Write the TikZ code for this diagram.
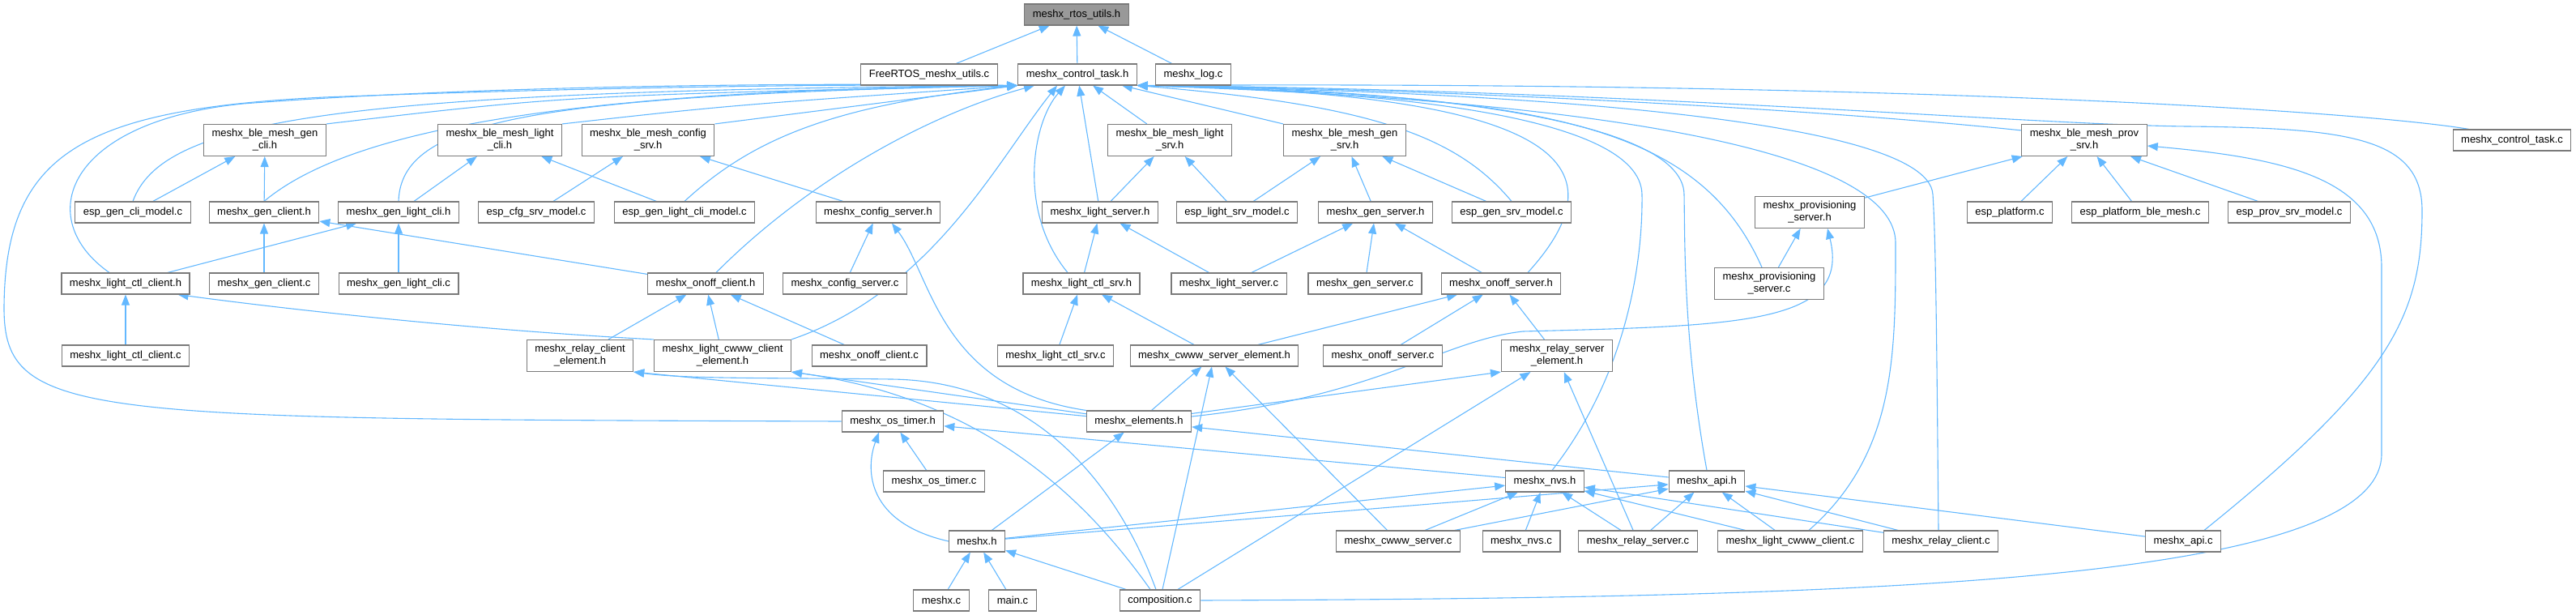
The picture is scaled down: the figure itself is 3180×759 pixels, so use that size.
\documentclass[tikz,border=0pt]{standalone}
\usepackage{fontspec}
\setmainfont{Liberation Sans}
\usetikzlibrary{arrows.meta}
\definecolor{edgeblue}{HTML}{63B8FF}
\definecolor{boxline}{HTML}{7A7A7A}
\definecolor{rootfill}{HTML}{999999}
\pgfdeclarelayer{bg}
\pgfsetlayers{bg,main}

\begin{document}
\begin{tikzpicture}[
    x=1pt, y=-1pt,
    every node/.style={font=\fontsize{13pt}{15pt}\selectfont, align=center},
    fnode/.style={
      rectangle, draw=boxline, line width=1.1pt, fill=white,
      minimum height=26pt, inner xsep=10pt, inner ysep=6pt
    },
    rootnode/.style={fnode, fill=rootfill},
    flow/.style={-{Triangle[length=13pt,width=10pt]}, line width=1.1pt, draw=edgeblue}
  ]
    \useasboundingbox (0,0) rectangle (3180,759);

    \node[rootnode] (rtos) at (1329,18) {meshx\_rtos\_utils.h};
    \node[fnode] (frtos) at (1147,92) {FreeRTOS\_meshx\_utils.c};
    \node[fnode] (ctask) at (1330,92) {meshx\_control\_task.h};
    \node[fnode] (logc) at (1473,92) {meshx\_log.c};

    \node[fnode] (bmgc) at (327,173) {meshx\_ble\_mesh\_gen\\\_cli.h};
    \node[fnode] (bmlc) at (617,173) {meshx\_ble\_mesh\_light\\\_cli.h};
    \node[fnode] (bmcs) at (800,173) {meshx\_ble\_mesh\_config\\\_srv.h};
    \node[fnode] (bmls) at (1444,173) {meshx\_ble\_mesh\_light\\\_srv.h};
    \node[fnode] (bmgs) at (1660,173) {meshx\_ble\_mesh\_gen\\\_srv.h};
    \node[fnode] (bmps) at (2573,173) {meshx\_ble\_mesh\_prov\\\_srv.h};
    \node[fnode] (ctaskc) at (3101,173) {meshx\_control\_task.c};

    \node[fnode] (egcm) at (164,262) {esp\_gen\_cli\_model.c};
    \node[fnode] (gench) at (326,262) {meshx\_gen\_client.h};
    \node[fnode] (glch) at (492,262) {meshx\_gen\_light\_cli.h};
    \node[fnode] (ecsm) at (662,262) {esp\_cfg\_srv\_model.c};
    \node[fnode] (eglcm) at (845,262) {esp\_gen\_light\_cli\_model.c};
    \node[fnode] (cfgsh) at (1084,262) {meshx\_config\_server.h};
    \node[fnode] (lsh) at (1358,262) {meshx\_light\_server.h};
    \node[fnode] (elsm) at (1527,262) {esp\_light\_srv\_model.c};
    \node[fnode] (gensh) at (1698,262) {meshx\_gen\_server.h};
    \node[fnode] (egsm) at (1866,262) {esp\_gen\_srv\_model.c};
    \node[fnode] (provsh) at (2234,262) {meshx\_provisioning\\\_server.h};
    \node[fnode] (eplat) at (2481,262) {esp\_platform.c};
    \node[fnode] (epbm) at (2642,262) {esp\_platform\_ble\_mesh.c};
    \node[fnode] (epsm) at (2826,262) {esp\_prov\_srv\_model.c};

    \node[fnode] (lccth) at (155,350) {meshx\_light\_ctl\_client.h};
    \node[fnode] (gencc) at (326,350) {meshx\_gen\_client.c};
    \node[fnode] (glcc) at (492,350) {meshx\_gen\_light\_cli.c};
    \node[fnode] (onoffch) at (871,350) {meshx\_onoff\_client.h};
    \node[fnode] (cfgsc) at (1043,350) {meshx\_config\_server.c};
    \node[fnode] (lctlsh) at (1335,350) {meshx\_light\_ctl\_srv.h};
    \node[fnode] (lsc) at (1517,350) {meshx\_light\_server.c};
    \node[fnode] (gensc) at (1685,350) {meshx\_gen\_server.c};
    \node[fnode] (onoffsh) at (1853,350) {meshx\_onoff\_server.h};
    \node[fnode] (provsc) at (2184,350) {meshx\_provisioning\\\_server.c};

    \node[fnode] (lcclc) at (155,439) {meshx\_light\_ctl\_client.c};
    \node[fnode] (relcel) at (716,439) {meshx\_relay\_client\\\_element.h};
    \node[fnode] (cwcel) at (892,439) {meshx\_light\_cwww\_client\\\_element.h};
    \node[fnode] (onoffcc) at (1073,439) {meshx\_onoff\_client.c};
    \node[fnode] (lctlsc) at (1303,439) {meshx\_light\_ctl\_srv.c};
    \node[fnode] (cwsel) at (1499,439) {meshx\_cwww\_server\_element.h};
    \node[fnode] (onoffsc) at (1707,439) {meshx\_onoff\_server.c};
    \node[fnode] (relsel) at (1922,439) {meshx\_relay\_server\\\_element.h};

    \node[fnode] (ostimh) at (1102,520) {meshx\_os\_timer.h};
    \node[fnode] (elemh) at (1406,520) {meshx\_elements.h};
    \node[fnode] (ostimc) at (1153,594) {meshx\_os\_timer.c};
    \node[fnode] (nvsh) at (1907,594) {meshx\_nvs.h};
    \node[fnode] (apih) at (2107,594) {meshx\_api.h};

    \node[fnode] (meshxh) at (1206,668) {meshx.h};
    \node[fnode] (cwsc) at (1726,668) {meshx\_cwww\_server.c};
    \node[fnode] (nvsc) at (1878,668) {meshx\_nvs.c};
    \node[fnode] (relsc) at (2022,668) {meshx\_relay\_server.c};
    \node[fnode] (lcwcc) at (2210,668) {meshx\_light\_cwww\_client.c};
    \node[fnode] (relcc) at (2396,668) {meshx\_relay\_client.c};
    \node[fnode] (apic) at (2695,668) {meshx\_api.c};

    \node[fnode] (meshxc) at (1162,741) {meshx.c};
    \node[fnode] (mainc) at (1250,741) {main.c};
    \node[fnode] (compc) at (1432,741) {composition.c};

    \begin{pgfonlayer}{bg}
    \draw[flow] (frtos) -- (rtos);
    \draw[flow] (ctask) -- (rtos);
    \draw[flow] (logc) -- (rtos);

    \draw[flow] (bmgc.north east) .. controls (700,118) .. (ctask.south west);
    \draw[flow] (bmlc.north east) .. controls (900,130) .. (ctask.south west);
    \draw[flow] (bmcs.north east) -- (ctask.south west);
    \draw[flow] (egcm.north) .. controls (200,150) and (400,112) .. (ctask.south west);
    \draw[flow] (gench.north) .. controls (420,170) and (650,112) .. (ctask.south west);
    \draw[flow] (glch.north) .. controls (495,150) and (650,118) .. (ctask.south west);
    \draw[flow] ([xshift=-20pt]lccth.north) .. controls (40,270) and (80,150) .. (300,128)
      .. controls (600,105) and (1000,102) .. (ctask.south west);
    \draw[flow] (ostimh.west) .. controls (100,517) and (5,517) .. (5,380)
      .. controls (6,190) and (100,135) .. (400,120)
      .. controls (800,105) and (1100,104) .. (ctask.south west);
    \draw[flow] (eglcm.north) .. controls (930,170) and (1030,130) .. (ctask.south west);
    \draw[flow] ([xshift=13pt]onoffch.north) .. controls (1000,220) and (1150,140) .. ([xshift=-53pt]ctask.south);
    \draw[flow] (cwcel.north east) .. controls (1150,360) and (1230,200) .. ([xshift=-25pt]ctask.south);
    \draw[flow] ([xshift=-17pt]lctlsh.north) .. controls (1255,260) and (1275,150) .. ([xshift=-15pt]ctask.south);
    \draw[flow] (lsh) -- (ctask);
    \draw[flow] (bmls) -- (ctask);
    \draw[flow] (bmgs.north west) -- ([xshift=55pt]ctask.south);

    \draw[flow] (egsm.north) .. controls (1800,170) and (1700,130) .. (ctask.south east);
    \draw[flow] ([xshift=33pt]onoffsh.north) .. controls (2010,200) and (1920,115) .. (ctask.south east);
    \draw[flow] ([xshift=9pt]nvsh.north) .. controls (2010,460) and (2028,320) .. (2027,240)
      .. controls (2025,140) and (1700,112) .. (ctask.south east);
    \draw[flow] (apih.north) .. controls (2078,420) and (2080,300) .. (2079,240)
      .. controls (2078,140) and (1700,108) .. (ctask.south east);
    \draw[flow] ([xshift=-9pt]provsc.north) .. controls (2095,150) and (1900,118) .. (ctask.south east);
    \draw[flow] ([xshift=23pt]lcwcc.north) .. controls (2340,560) and (2340,440) .. (2340,300)
      .. controls (2340,160) and (1800,118) .. (ctask.south east);
    \draw[flow] ([xshift=-3pt]relcc.north) .. controls (2391,450) and (2390,300) .. (2386,240)
      .. controls (2380,140) and (1800,112) .. (ctask.south east);
    \draw[flow] ([xshift=26pt]apic.north) .. controls (2950,470) and (2990,390) .. (2990,260)
      .. controls (2990,170) and (2900,158) .. (2700,156)
      .. controls (2500,154) and (2000,110) .. (ctask.south east);
    \draw[flow] ([yshift=-8pt]bmps.north west) .. controls (2200,130) and (1700,108) .. (ctask.south east);
    \draw[flow] ([xshift=-53pt]ctaskc.north) .. controls (2900,135) and (2300,100) .. (ctask.south east);

    \draw[flow] (egcm) -- (bmgc);
    \draw[flow] (gench) -- (bmgc);
    \draw[flow] (glch) -- (bmlc);
    \draw[flow] (eglcm) -- (bmlc);
    \draw[flow] (ecsm) -- (bmcs);
    \draw[flow] (cfgsh) -- (bmcs);
    \draw[flow] (lsh) -- (bmls);
    \draw[flow] (elsm) -- (bmls);
    \draw[flow] (elsm) -- (bmgs);
    \draw[flow] (gensh) -- (bmgs);
    \draw[flow] (egsm) -- (bmgs);
    \draw[flow] (provsh) -- (bmps);
    \draw[flow] (eplat) -- (bmps);
    \draw[flow] (epbm) -- (bmps);
    \draw[flow] (epsm) -- (bmps);
    \draw[flow] (compc.east) .. controls (2300,738) and (2940,720) .. (2940,560) -- (2940,330)
      .. controls (2940,220) and (2820,195) .. ([yshift=-7pt]bmps.east);

    \draw[flow] (gencc) -- (gench);
    \draw[flow] (onoffch) -- (gench);
    \draw[flow] (lccth) -- (glch);
    \draw[flow] (glcc) -- (glch);
    \draw[flow] (cfgsc) -- (cfgsh);
    \draw[flow] (lctlsh) -- (lsh);
    \draw[flow] (lsc) -- (lsh);
    \draw[flow] (lsc) -- (gensh);
    \draw[flow] (gensc) -- (gensh);
    \draw[flow] (onoffsh) -- (gensh);
    \draw[flow] (provsc) -- (provsh);
    \draw[flow] (elemh.north west) .. controls (1160,480) and (1150,340) .. ([xshift=17pt]cfgsh.south);
    \draw[flow] ([yshift=6pt]elemh.east) .. controls (1700,490) and (1780,420) .. (1880,409)
      .. controls (2150,402) and (2285,400) .. ([xshift=22pt]provsh.south);

    \draw[flow] (lcclc) -- (lccth);
    \draw[flow] (cwcel.north west) .. controls (600,408) and (380,385) .. ([xshift=-15pt]lccth.south east);
    \draw[flow] (relcel) -- (onoffch);
    \draw[flow] (cwcel) -- (onoffch);
    \draw[flow] (onoffcc) -- (onoffch);
    \draw[flow] (lctlsc) -- (lctlsh);
    \draw[flow] (cwsel) -- (lctlsh);
    \draw[flow] (cwsel) -- (onoffsh);
    \draw[flow] (onoffsc) -- (onoffsh);
    \draw[flow] (relsel) -- (onoffsh);

    \draw[flow] (elemh) -- (relcel.south east);
    \draw[flow] (elemh) -- (cwcel.south east);
    \draw[flow] ([xshift=-5pt]compc.north) .. controls (1380,600) and (1280,470) .. (1100,468)
      .. controls (950,466) and (850,468) .. (relcel.south east);
    \draw[flow] ([xshift=-12pt]compc.north) .. controls (1330,600) and (1200,490) .. (cwcel.south east);
    \draw[flow] (elemh) -- (cwsel);
    \draw[flow] (compc) -- (cwsel);
    \draw[flow] (cwsc) -- (cwsel);
    \draw[flow] ([yshift=-4pt]elemh.north east) -- (relsel.south west);
    \draw[flow] (compc) -- (relsel);
    \draw[flow] (relsc) -- (relsel);

    \draw[flow] (ostimc) -- (ostimh);
    \draw[flow] (meshxh.west) .. controls (1070,645) and (1068,580) .. ([xshift=-17pt]ostimh.south);
    \draw[flow] (nvsh) -- (ostimh);
    \draw[flow] (apih) -- (elemh);
    \draw[flow] (meshxh) -- (elemh);
    \draw[flow] (meshxc) -- (meshxh);
    \draw[flow] (mainc) -- (meshxh);
    \draw[flow] (compc) -- (meshxh);
    \draw[flow] (meshxh) -- (nvsh);
    \draw[flow] (meshxh) -- (apih);
    \draw[flow] (cwsc) -- (nvsh);
    \draw[flow] (cwsc) -- (apih);
    \draw[flow] (nvsc) -- (nvsh);
    \draw[flow] (relsc) -- (nvsh);
    \draw[flow] (relsc) -- (apih);
    \draw[flow] (lcwcc) -- (nvsh);
    \draw[flow] (lcwcc) -- (apih);
    \draw[flow] (relcc) -- (nvsh);
    \draw[flow] (relcc) -- (apih);
    \draw[flow] (apic) -- (apih);
    \end{pgfonlayer}
  \end{tikzpicture}
\end{document}
